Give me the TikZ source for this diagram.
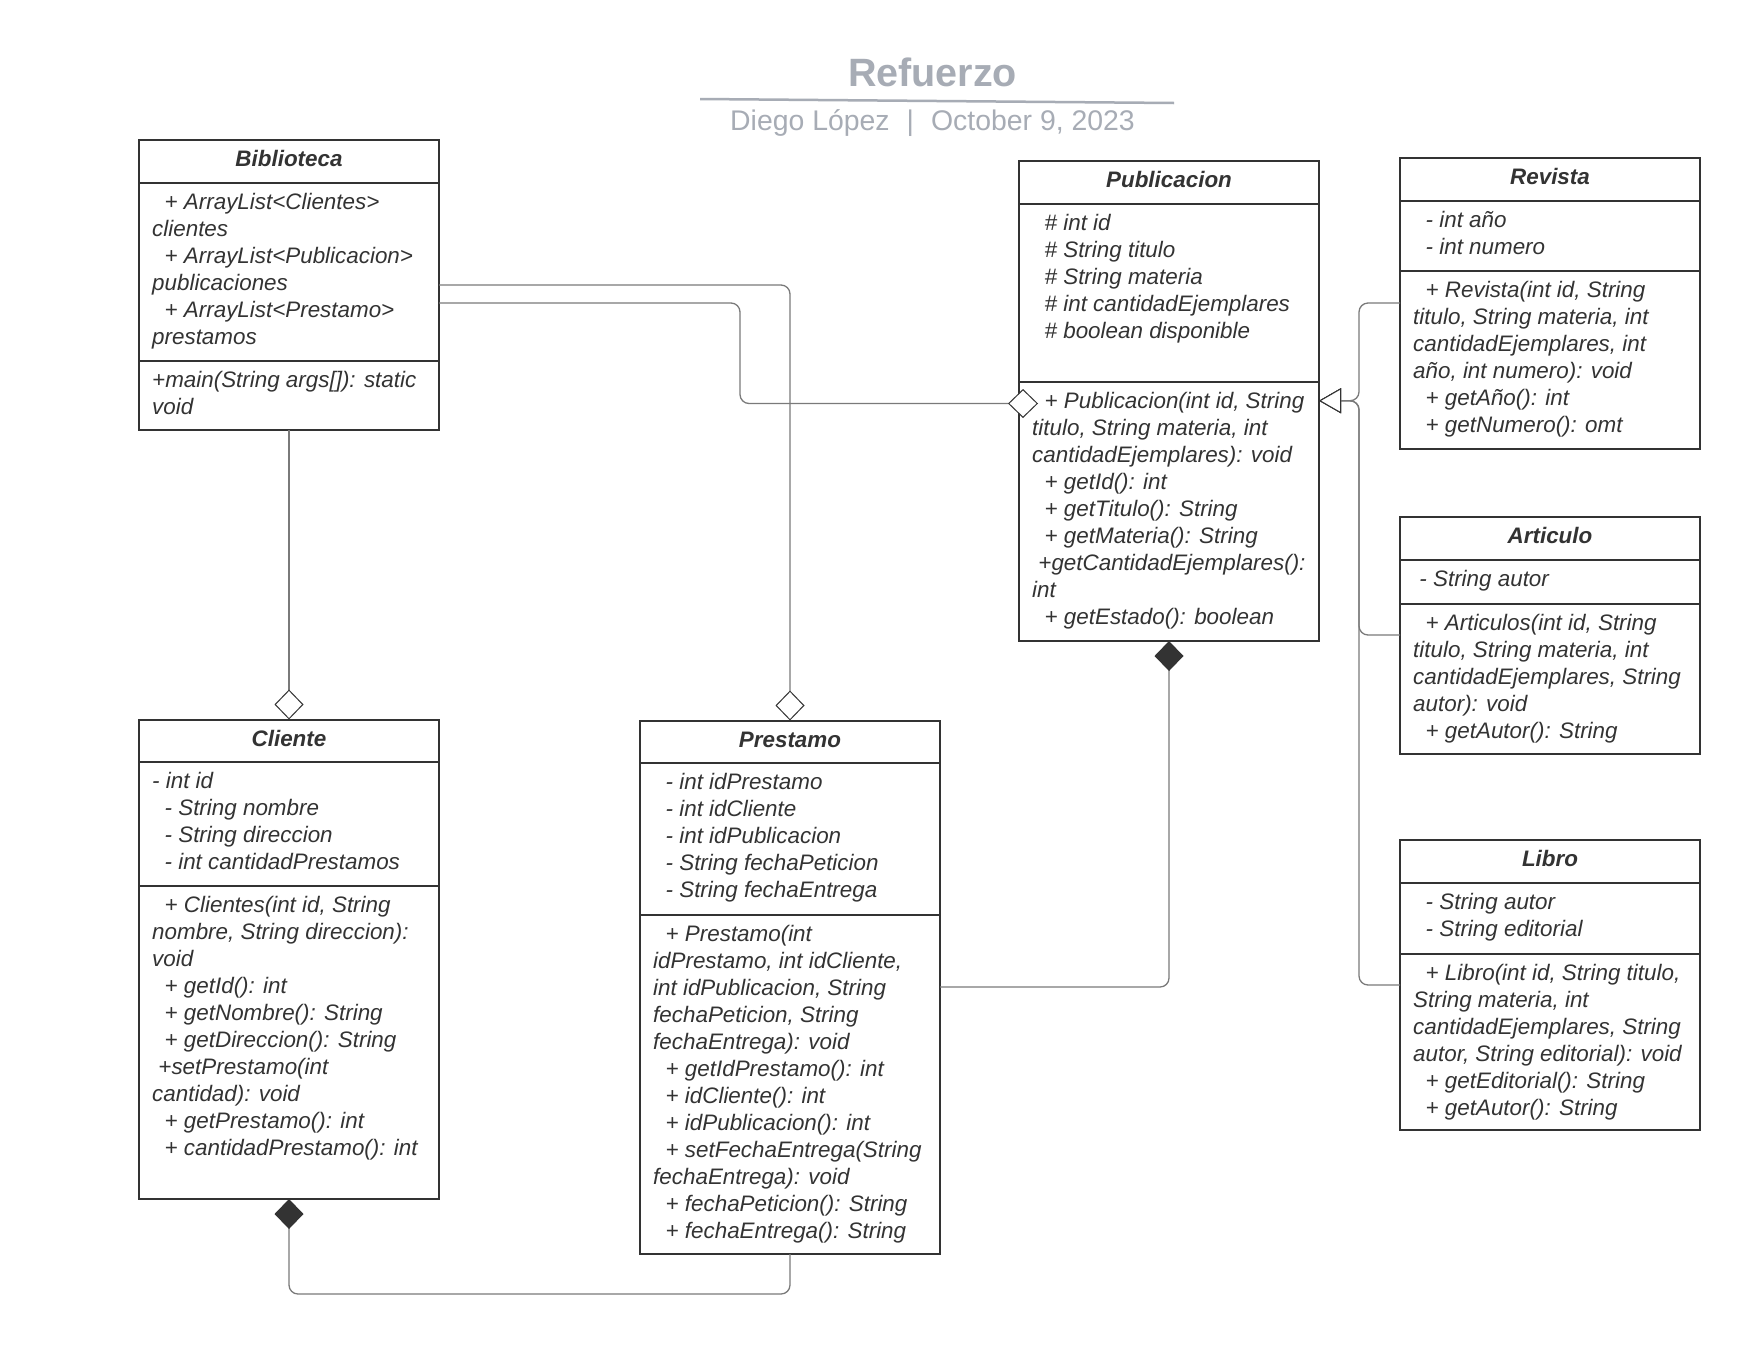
\documentclass[tikz,border=0pt]{standalone}
\usepackage{fontspec}
\setmainfont{Liberation Sans}
\usetikzlibrary{arrows.meta,calc,positioning}
\definecolor{umldark}{HTML}{333333}
\definecolor{linkgray}{HTML}{7A7A7A}
\definecolor{headgray}{HTML}{A7ACB5}
\newcommand{\twosp}{\hspace*{0.556em}}
\newcommand{\onesp}{\hspace*{0.278em}}
% name, left, top, header line, separator, bottom, title, attributes, methods
\newcommand{\umlclass}[9]{%
  \node[classbox, minimum height={#6-#3}] (#1) at ({#2+150},{(#3+#6)/2}) {};
  \draw[boxrule] (#2,#4) -- ++(300,0) (#2,#5) -- ++(300,0);
  \node[classname] (#1-name) at ({#2+150},{#3+26.5}) {#7};
  \node[members] (#1-attr) at ({#2+13},{#4+7.8}) {\strut#8};
  \node[members] (#1-ops) at ({#2+13},{#5+7.8}) {\strut#9};
}
\tikzset{
  classbox/.style={draw=umldark, line width=2pt, fill=white, minimum width=300, inner sep=0, outer sep=0},
  boxrule/.style={draw=umldark, line width=2pt},
  classname/.style={anchor=base, inner sep=0, text=umldark, font=\fontsize{22.4}{27}\selectfont\bfseries\itshape},
  members/.style={anchor=north west, align=left, inner sep=0, text=umldark, font=\fontsize{22.4}{27}\selectfont\itshape},
  link/.style={draw=linkgray, line width=1.3pt, rounded corners=9pt},
  agg/.style={link, -{Diamond[color=umldark, open, fill=white, line width=1pt, length=30pt, width=29pt]}},
  comp/.style={link, -{Diamond[color=umldark, fill=umldark, length=30pt, width=29pt]}},
  inherit/.style={link, -{Triangle[color=umldark, open, fill=white, line width=1pt, length=22pt, width=25pt]}},
  titletext/.style={anchor=base, inner sep=0, text=headgray, font=\fontsize{39.5}{46}\selectfont\bfseries},
  subtext/.style={anchor=base, inner sep=0, text=headgray, font=\fontsize{28.4}{34}\selectfont},
  titlerule/.style={draw=headgray, line width=2.5pt}
}

\begin{document}
\begin{tikzpicture}[x=1pt,y=-1pt]
  \fill[white] (0,0) rectangle (1760,1360);
  % heading
  \node[titletext] (title) at (932.5,86) {Refuerzo};
  \draw[titlerule] (700,99) -- (1174,103);
  \node[subtext] (subtitle) at (932.5,130) {Diego López\hspace{0.6em}|\hspace{0.6em}October 9, 2023};

  % classes
  \umlclass{biblio}{139}{140}{183}{361}{430}{Biblioteca}
    {\twosp+ ArrayList<Clientes>\\clientes\\\twosp+ ArrayList<Publicacion>\\publicaciones\\\twosp+ ArrayList<Prestamo>\\prestamos}
    {+main(String args[]): static\\void}
  \umlclass{pub}{1019}{160.5}{204}{382}{641}{Publicacion}
    {\twosp\# int id\\\twosp\# String titulo\\\twosp\# String materia\\\twosp\# int cantidadEjemplares\\\twosp\# boolean disponible}
    {\twosp+ Publicacion(int id, String\\titulo, String materia, int\\cantidadEjemplares): void\\\twosp+ getId(): int\\\twosp+ getTitulo(): String\\\twosp+ getMateria(): String\\\onesp+getCantidadEjemplares():\\int\\\twosp+ getEstado(): boolean}
  \umlclass{revista}{1400}{158}{201}{271}{449}{Revista}
    {\twosp- int año\\\twosp- int numero}
    {\twosp+ Revista(int id, String\\titulo, String materia, int\\cantidadEjemplares, int\\año, int numero): void\\\twosp+ getAño(): int\\\twosp+ getNumero(): omt}
  \umlclass{articulo}{1400}{517}{560}{604}{754}{Articulo}
    {\onesp- String autor}
    {\twosp+ Articulos(int id, String\\titulo, String materia, int\\cantidadEjemplares, String\\autor): void\\\twosp+ getAutor(): String}
  \umlclass{libro}{1400}{840}{883}{954}{1130}{Libro}
    {\twosp- String autor\\\twosp- String editorial}
    {\twosp+ Libro(int id, String titulo,\\String materia, int\\cantidadEjemplares, String\\autor, String editorial): void\\\twosp+ getEditorial(): String\\\twosp+ getAutor(): String}
  \umlclass{cliente}{139}{719.5}{762}{886}{1199}{Cliente}
    {- int id\\\twosp- String nombre\\\twosp- String direccion\\\twosp- int cantidadPrestamos}
    {\twosp+ Clientes(int id, String\\nombre, String direccion):\\void\\\twosp+ getId(): int\\\twosp+ getNombre(): String\\\twosp+ getDireccion(): String\\\onesp+setPrestamo(int\\cantidad): void\\\twosp+ getPrestamo(): int\\\twosp+ cantidadPrestamo(): int}
  \umlclass{prestamo}{640}{720.5}{763}{915}{1254}{Prestamo}
    {\twosp- int idPrestamo\\\twosp- int idCliente\\\twosp- int idPublicacion\\\twosp- String fechaPeticion\\\twosp- String fechaEntrega}
    {\twosp+ Prestamo(int\\idPrestamo, int idCliente,\\int idPublicacion, String\\fechaPeticion, String\\fechaEntrega): void\\\twosp+ getIdPrestamo(): int\\\twosp+ idCliente(): int\\\twosp+ idPublicacion(): int\\\twosp+ setFechaEntrega(String\\fechaEntrega): void\\\twosp+ fechaPeticion(): String\\\twosp+ fechaEntrega(): String}

  % aggregation
  \coordinate (pubIn) at (1038,403.5);
  \draw[agg] (biblio.south) -- (cliente.north);
  \draw[agg] (biblio.east |- 0,285) -| (prestamo.north);
  \draw[agg] (biblio.east |- 0,303) -- (740,303) |- (pubIn);
  % composition
  \draw[comp] (prestamo.east |- 0,987) -| (pub.south);
  \draw[comp] (prestamo.south) -- ++(0,40) -| (cliente.south);
  % inheritance
  \draw[inherit] (revista.west |- 0,303) -- (1359,303) |- (pub.east);
  \draw[inherit] (articulo.west |- 0,635) -- (1359,635) |- (pub.east);
  \draw[inherit] (libro.west |- 0,985) -- (1359,985) |- (pub.east);
\end{tikzpicture}
\end{document}
